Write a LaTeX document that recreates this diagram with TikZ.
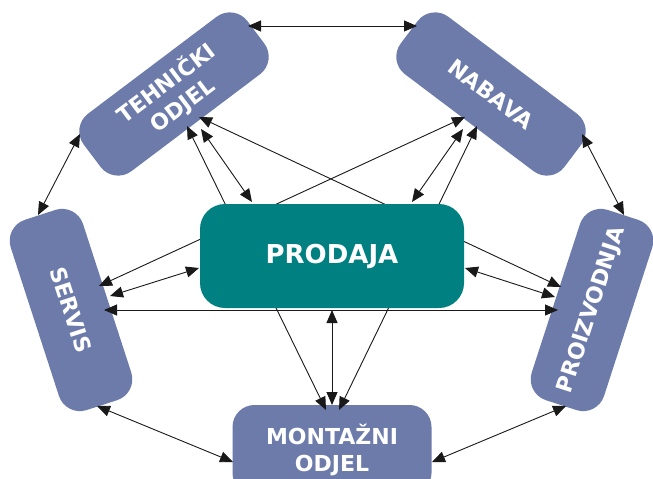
\documentclass[tikz,border=0pt]{standalone}
\usepackage{fontspec}
\setmainfont{DejaVu Sans}
\usetikzlibrary{arrows.meta,calc}
\definecolor{boxblue}{RGB}{109,123,171}
\definecolor{prodteal}{RGB}{0,128,128}
\newcommand\boxfnt{\fontsize{22}{27}\selectfont\bfseries}
\newcommand\prodfnt{\fontsize{26}{30}\selectfont\bfseries}
\tikzset{
  box/.style={fill=boxblue, rounded corners=22pt, minimum width=205pt, minimum height=72pt,
    text=white, align=center, font=\boxfnt, inner sep=0pt},
  prodbox/.style={fill=prodteal, rounded corners=25pt, minimum width=264pt, minimum height=104pt,
    text=white, font=\prodfnt, inner sep=0pt},
  conn/.style={{Triangle[length=13pt,width=11pt]}-{Triangle[length=13pt,width=11pt]},
    line width=0.9pt, black!90}
}
\begin{document}
\begin{tikzpicture}[x=1pt,y=-1pt]
\clip (0,0) rectangle (653,479);
\fill[white] (0,0) rectangle (653,479);
% outer boxes
\node[box, rotate=37] (t) at (174,94) {TEHNIČKI\\ODJEL};
\node[box, rotate=-37] (n) at (491,94) {NABAVA};
\node[box, rotate=-72, minimum width=200pt, minimum height=76pt] (s) at (71,310) {SERVIS};
\node[box, rotate=72, minimum width=200pt, minimum height=76pt] (p) at (592,310) {PROIZVODNJA};
\node[box, minimum width=199pt, minimum height=90pt] (m) at (332,450) {MONTAŽNI\\ODJEL};
% connectors passing behind PRODAJA
\draw[conn] ($(t)+(13,32)$) -- ($(m)+(-6,-40)$);
\draw[conn] ($(n)+(-14,32)$) -- ($(m)+(7,-40)$);
\draw[conn] ($(t)+(25,23)$) -- ($(p)+(-31,-23)$);
\draw[conn] ($(n)+(-26,23)$) -- ($(s)+(28,-24)$);
% central box
\node[prodbox] (d) at (332,256) {PRODAJA};
% ring connectors
\draw[conn] ($(t)+(74,-68)$) -- ($(n)+(-74,-68)$);
\draw[conn] ($(t)+(-94,40)$) -- ($(s)+(-33,-95)$);
\draw[conn] ($(n)+(91,40)$) -- ($(p)+(32,-95)$);
\draw[conn] ($(s)+(26,96)$) -- ($(m)+(-99,12)$);
\draw[conn] ($(p)+(-26,96)$) -- ($(m)+(100,12)$);
\draw[conn] ($(s)+(33,0)$) -- ($(p)+(-34,0)$);
% PRODAJA connectors
\draw[conn] ($(d)+(0,54)$) -- ($(m)+(0,-45)$);
\draw[conn] ($(t)+(27,35)$) -- ($(d)+(-80,-54)$);
\draw[conn] ($(n)+(-28,35)$) -- ($(d)+(80,-54)$);
\draw[conn] ($(d)+(-133,12)$) -- ($(s)+(39,-14)$);
\draw[conn] ($(d)+(133,12)$) -- ($(p)+(-37,-13)$);
\end{tikzpicture}
\end{document}
